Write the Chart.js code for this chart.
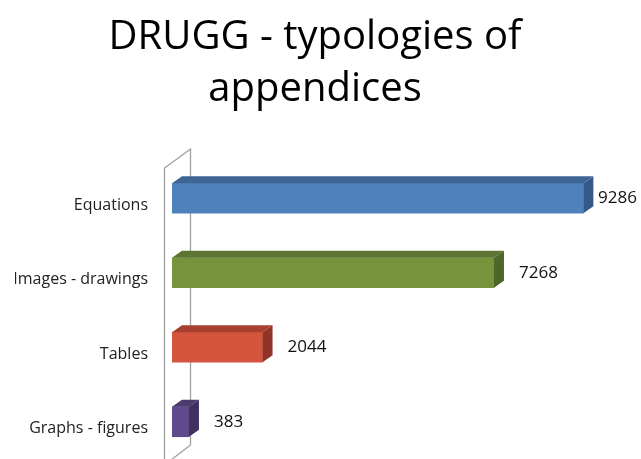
<!DOCTYPE html>
<html>
<head>
<meta charset="utf-8">
<script src="https://cdn.jsdelivr.net/npm/chart.js@4.4.0/dist/chart.umd.min.js"></script>
<style>
  html, body { margin: 0; padding: 0; background: #fff; }
  #wrap { width: 641px; height: 459px; }
</style>
</head>
<body>
<div id="wrap"><canvas id="chart"></canvas></div>
<script>
// data
var categories = ["Equations", "Images - drawings", "Tables", "Graphs - figures"];
var counts = [9286, 7268, 2044, 383];
var titleLines = ["DRUGG - typologies of", "appendices"];
var xMax = 10000;

// colours: front face, top face, right side
var frontColors = ["#4f81bd", "#77933c", "#d4553e", "#5f4b8b"];
var topColors = ["#3e6594", "#5c7530", "#a8402f", "#4a3a6d"];
var sideColors = ["#36598a", "#4f6629", "#8e3527", "#3e3160"];

// 3d depth of the bars and of the wall
var depthX = 10, depthY = -7;

var bar3d = {
  id: "bar3d",
  beforeDatasetsDraw: function (chart) {
    var ctx = chart.ctx;
    var a = chart.chartArea;
    var fx = a.left - 8, bx = a.left + 18;
    ctx.save();
    ctx.strokeStyle = "#a0a0a0";
    ctx.lineWidth = 1.3;
    ctx.beginPath();
    ctx.moveTo(fx + 0.5, a.bottom + 6);
    ctx.lineTo(fx + 0.5, a.top + 7);
    ctx.lineTo(bx + 0.5, a.top - 12);
    ctx.lineTo(bx + 0.5, a.bottom - 14);
    ctx.lineTo(fx + 0.5, a.bottom + 6);
    ctx.stroke();
    ctx.restore();
  },
  afterDatasetsDraw: function (chart) {
    var ctx = chart.ctx;
    var meta = chart.getDatasetMeta(0);
    ctx.save();
    meta.data.forEach(function (bar, i) {
      var top = bar.y - bar.height / 2;
      var bottom = bar.y + bar.height / 2;
      // top face
      ctx.fillStyle = topColors[i];
      ctx.beginPath();
      ctx.moveTo(bar.base, top);
      ctx.lineTo(bar.x, top);
      ctx.lineTo(bar.x + depthX, top + depthY);
      ctx.lineTo(bar.base + depthX, top + depthY);
      ctx.closePath();
      ctx.fill();
      // right side
      ctx.fillStyle = sideColors[i];
      ctx.beginPath();
      ctx.moveTo(bar.x, top);
      ctx.lineTo(bar.x + depthX, top + depthY);
      ctx.lineTo(bar.x + depthX, bottom + depthY);
      ctx.lineTo(bar.x, bottom);
      ctx.closePath();
      ctx.fill();

      // value label
      ctx.font = "17px 'Open Sans'";
      ctx.fillStyle = "#111";
      ctx.textBaseline = "middle";
      ctx.textAlign = "left";
      var txt = String(counts[i]);
      var w = ctx.measureText(txt).width;
      var lx = Math.min(bar.x + 25, chart.width - w - 4);
      ctx.fillText(txt, lx, bar.y);
    });
    ctx.restore();
  }
};

new Chart(document.getElementById("chart"), {
  type: "bar",
  data: {
    labels: categories,
    datasets: [{
      data: counts,
      backgroundColor: frontColors,
      barThickness: 30
    }]
  },
  options: {
    indexAxis: "y",
    responsive: true,
    maintainAspectRatio: false,
    animation: false,
    layout: { padding: { left: 15, right: 26, top: 0, bottom: 0 } },
    plugins: {
      legend: { display: false },
      tooltip: { enabled: false },
      title: {
        display: true,
        text: titleLines,
        color: "#000",
        font: { family: "'Open Sans'", size: 40, weight: "normal", lineHeight: 1.3 },
        padding: { top: 12, bottom: 45 }
      }
    },
    scales: {
      x: { display: false, min: 0, max: xMax },
      y: {
        grid: { display: false, drawTicks: false },
        border: { display: false },
        afterFit: function (scale) {
          scale.width = 157;
          scale.paddingTop = 0;
          scale.paddingBottom = 0;
        },
        ticks: {
          color: "#222",
          padding: 24,
          labelOffset: 7,
          font: { family: "'Open Sans'", size: 16 }
        }
      }
    }
  },
  plugins: [bar3d]
});
</script>
</body>
</html>
